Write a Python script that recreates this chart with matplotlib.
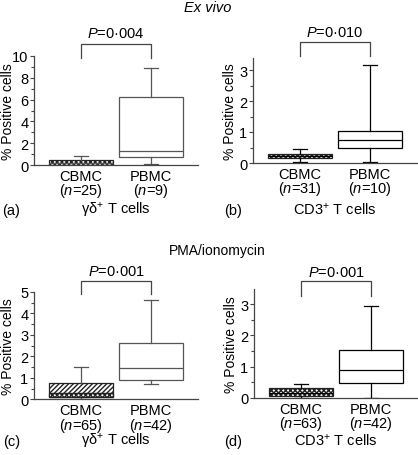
import matplotlib
matplotlib.use("Agg")
import matplotlib.pyplot as plt
from matplotlib.patches import Rectangle
from matplotlib.transforms import blended_transform_factory

plt.rcParams['font.family'] = ['Liberation Sans', 'DejaVu Sans']
plt.rcParams['mathtext.fontset'] = 'custom'
plt.rcParams['mathtext.rm'] = 'Liberation Sans'
plt.rcParams['mathtext.it'] = 'Liberation Sans:italic'
plt.rcParams['font.size'] = 10
plt.rcParams['hatch.linewidth'] = 1.0

# box stats: whislo, q1, med, q3, whishi
groups = ["CBMC", "PBMC"]
n_a = [25, 9]
n_b = [31, 10]
n_c = [65, 42]
n_d = [63, 42]
stats_a = [[0.0, 0.0, 0.2, 0.5, 0.8], [0.1, 0.7, 1.3, 6.2, 8.9]]
stats_b = [[0.04, 0.16, 0.22, 0.30, 0.46], [0.02, 0.48, 0.74, 1.02, 3.16]]
stats_c = [[0.02, 0.1, 0.28, 0.75, 1.5], [0.71, 0.90, 1.45, 2.63, 4.62]]
stats_d = [[0.0, 0.05, 0.15, 0.30, 0.44], [0.0, 0.48, 0.88, 1.52, 2.96]]
pvals = ["0·004", "0·010", "0·001", "0·001"]
cells = [r"γδ$^{+}$ T cells", r"CD3$^{+}$ T cells", r"γδ$^{+}$ T cells", r"CD3$^{+}$ T cells"]
letters = ["(a)", "(b)", "(c)", "(d)"]

W, H = 418, 456
fig = plt.figure(figsize=(W / 100, H / 100), dpi=100)

# panel layout in pixels: left, y=0 line, height
panels = [
    dict(st=stats_a, n=n_a, px=(34, 166, 109), ymax=10, step=2, col='#555555', lab=-0.116,
         br=(45, 59, 34), base=215, lx=2),
    dict(st=stats_b, n=n_b, px=(253, 164, 105.4), ymax=3.4, step=1, col='black', lab=-0.098,
         br=(43, 57, 33), base=215, lx=224),
    dict(st=stats_c, n=n_c, px=(34, 400.3, 107.3), ymax=5, step=1, col='#555555', lab=-0.116,
         br=(282, 295, 272), base=446, lx=3),
    dict(st=stats_d, n=n_d, px=(254, 398.7, 108.9), ymax=3.5, step=1, col='black', lab=-0.10,
         br=(282, 297, 273), base=446, lx=224),
]

for i, p in enumerate(panels):
    left, y0, h = p['px']
    ax = fig.add_axes([left / W, 1 - y0 / H, 164 / W, h / H])
    stats = []
    for g, s, n in zip(groups, p['st'], p['n']):
        stats.append(dict(whislo=s[0], q1=s[1], med=s[2], q3=s[3], whishi=s[4], label=g))
    col = p['col']
    lw = 0.9
    bp = ax.bxp(stats, positions=[1, 2], widths=0.91, patch_artist=True, showfliers=False,
                capwidths=0.21,
                boxprops=dict(facecolor='white', edgecolor=col, linewidth=lw),
                whiskerprops=dict(color=col, linewidth=lw),
                capprops=dict(color=col, linewidth=lw),
                medianprops=dict(color=col, linewidth=lw))
    cb = bp['boxes'][0]
    cb.set_edgecolor('#222222')
    s = p['st'][0]
    if i == 2:
        cb.set_hatch('///////')
        ax.add_patch(Rectangle((1 - 0.455, s[1]), 0.91, s[2] - s[1], facecolor='white',
                               edgecolor='#222222', hatch='xxxxxxx', linewidth=lw, zorder=3))
    else:
        cb.set_hatch('xxxxxxx')

    ax.set_xlim(0.329, 2.671)
    ax.set_ylim(0, p['ymax'])
    ticks = list(range(0, int(p['ymax']) + 1, p['step']))
    ax.set_yticks(ticks)
    if p['step'] == 2:
        ax.set_yticks([t + 1 for t in ticks[:-1]], minor=True)
    else:
        ax.set_yticks([t + 0.5 for t in ticks if t + 0.5 < p['ymax']], minor=True)
    ax.set_xticks([1, 2])
    ax.set_xticklabels([f"{g}\n($\\mathit{{n}}$={n})" for g, n in zip(groups, p['n'])],
                       linespacing=0.85)
    ax.tick_params(axis='x', length=0, pad=3, labelsize=10.5)
    ax.tick_params(axis='y', which='major', length=3, width=0.8, pad=1, color='#444444', labelsize=10.5)
    ax.tick_params(axis='y', which='minor', length=2, width=0.8, color='#444444')
    for sp in ['top', 'right']:
        ax.spines[sp].set_visible(False)
    for sp in ['left', 'bottom']:
        ax.spines[sp].set_color('#444444')
        ax.spines[sp].set_linewidth(0.9)
    ax.set_ylabel("% Positive cells", fontsize=10)
    ax.yaxis.set_label_coords(p['lab'], 0.5)

    # significance bracket
    tr = blended_transform_factory(ax.transData, fig.transFigure)
    top, bot, ty = p['br']
    ax.plot([1, 1, 2, 2], [1 - bot / H, 1 - top / H, 1 - top / H, 1 - bot / H],
            color='#444444', linewidth=0.9, transform=tr, clip_on=False)
    ax.text(1.5, 1 - ty / H, f"$\\mathit{{P}}$=" + pvals[i], transform=tr,
            ha='center', va='center', fontsize=10.5)

    fig.text(p['lx'] / W, 1 - p['base'] / H, letters[i], ha='left', va='baseline', fontsize=10.5)
    fig.text((left + 82) / W, 1 - p['base'] / H, cells[i], ha='center', va='baseline', fontsize=10.5)

fig.text(208 / W, 1 - 8 / H, "Ex vivo", ha='center', va='center', fontsize=10.5, style='italic')
fig.text(217 / W, 1 - 251 / H, "PMA/ionomycin", ha='center', va='center', fontsize=10)

fig.savefig('out.png', dpi=100)
